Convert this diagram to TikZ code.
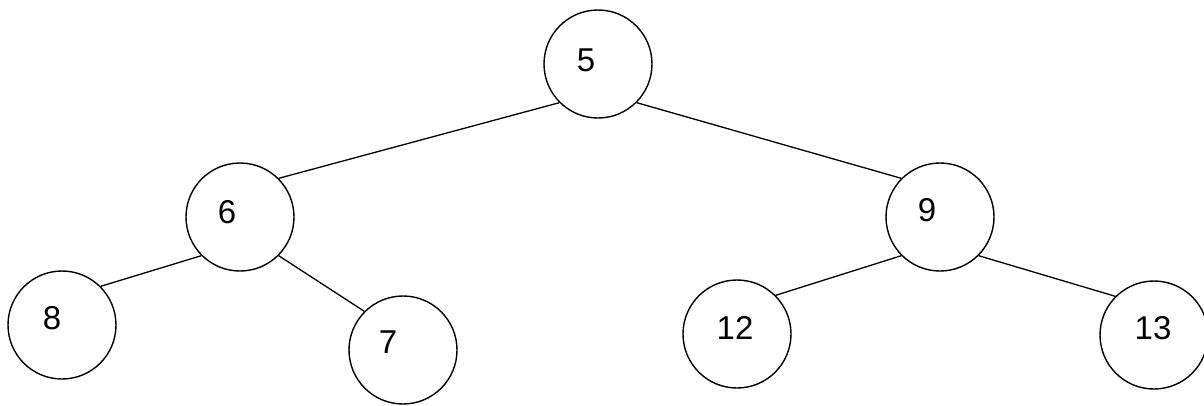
\documentclass[tikz,border=0pt]{standalone}
\usepackage{fontspec}
\setmainfont{Liberation Sans}
\begin{document}
\begin{tikzpicture}[x=1pt,y=-1pt,
  tnode/.style={circle,draw,line width=1.4pt,minimum size=108pt,inner sep=0pt},
  tlabel/.style={font=\fontsize{33}{33}\selectfont,inner sep=0pt},
  edge/.style={line width=1.3pt}]
\useasboundingbox (0,0) rectangle (1204,405);
\node[tnode] (n5) at (598,64) {};
\node[tnode] (n6) at (240,217) {};
\node[tnode] (n9) at (940,217) {};
\node[tnode] (n8) at (62,325) {};
\node[tnode] (n7) at (403,350) {};
\node[tnode] (n12) at (737,334) {};
\node[tnode] (n13) at (1154,335) {};
\node[tlabel] (t5) at ([shift={(-12,-4)}]n5.center) {5};
\node[tlabel] (t6) at ([shift={(-13,-5)}]n6.center) {6};
\node[tlabel] (t9) at ([shift={(-13,-7)}]n9.center) {9};
\node[tlabel] (t8) at ([shift={(-10,-7)}]n8.center) {8};
\node[tlabel] (t7) at ([shift={(-15,-8)}]n7.center) {7};
\node[tlabel] (t12) at ([shift={(-2,-6)}]n12.center) {12};
\node[tlabel] (t13) at ([shift={(-1,-7)}]n13.center) {13};
\draw[edge] (n5.south west) -- (n6.north east);
\draw[edge] (n5.south east) -- (n9.north west);
\draw[edge] (n6.south west) -- (n8.north east);
\draw[edge] (n6.south east) -- (n7.north west);
\draw[edge] (n9.south west) -- (n12.north east);
\draw[edge] (n9.south east) -- (n13.north west);
\end{tikzpicture}
\end{document}
